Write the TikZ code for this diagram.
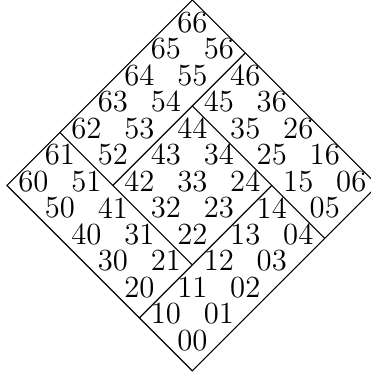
\documentclass[tikz,border=0pt]{standalone}
\usepackage{xcolor}
\usepackage{tikz}

\tikzset{num/.style={inner sep=0pt, yshift=1.5pt, font=\fontsize{11}{13}\selectfont}}

\begin{document}
\begin{tikzpicture}[x={(-0.3333cm,0.3333cm)}, y={(0.3333cm,0.3333cm)}]
        \useasboundingbox (-2.42cm,-0.373cm) rectangle (2.247cm,4.333cm);

        \foreach \i in {0,...,6}
            \foreach \j in {0,...,6}
                \node[num] (n\i\j) at (\i,\j) {\i\j};

        \draw (-0.5,-0.5) -- (6.5,-0.5) -- (6.5,6.5) -- (-0.5,6.5) -- cycle;

        \draw (4.5,1.5) -- (4.5,6.5);
        \draw (1.5,1.5) -- (6.5,1.5);
        \draw (1.5,-0.5) -- (1.5,4.5);
        \draw (-0.5,4.5) -- (4.5,4.5);
    \end{tikzpicture}
\end{document}
